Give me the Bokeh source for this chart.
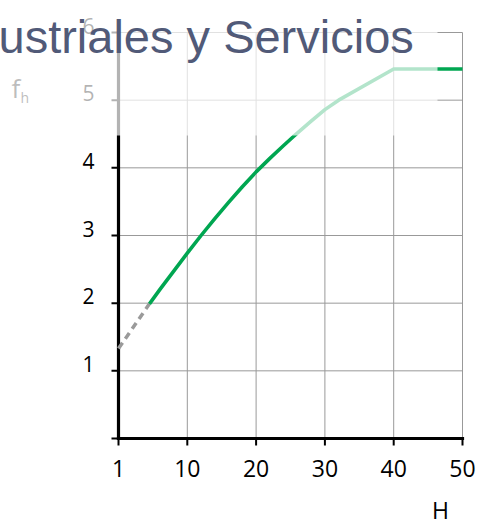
import math
from bokeh.plotting import figure
from bokeh.models import Range1d, BoxAnnotation, Label
from bokeh.core.properties import value
from bokeh.embed import file_html
from bokeh.resources import INLINE

# ---- data ----
x_ticks = [0, 10, 20, 30, 40, 50]
x_tick_labels = ["1", "10", "20", "30", "40", "50"]
y_ticks = [0, 1, 2, 3, 4, 5, 6]
y_tick_labels = ["1", "2", "3", "4", "5", "6"]   # no label at 0

curve_h = [4.5, 6, 8, 10, 12, 14, 16, 18, 20, 22, 24, 25.4, 28, 30, 32, 40, 50]
curve_f = [1.99, 2.20, 2.47, 2.74, 3.00, 3.25, 3.49, 3.72, 3.94, 4.14, 4.33, 4.46,
           4.69, 4.86, 5.00, 5.46, 5.46]
dash_h = [0, 4.5]
dash_f = [1.33, 1.99]

title_text = "ustriales y Servicios"
y_label = "f"
y_label_sub = "h"
x_label = "H"

# ---- layout (pixel placement of the chart area) ----
W, H = 477, 524
PX_X0, PX_X50 = 118, 462      # pixel of x=0 and x=50
PX_Y0, PX_Y6 = 438, 32        # pixel of y=0 and y=6
SX = (PX_X50 - PX_X0) / (x_ticks[-1] - x_ticks[0])
SY = (PX_Y0 - PX_Y6) / (y_ticks[-1] - y_ticks[0])


def dx(px):
    return x_ticks[0] + (px - PX_X0) / SX


def dy(py):
    return y_ticks[0] + (PX_Y0 - py) / SY


FONT = "Open Sans"
GRID = "#999999"
GREEN = "#00a651"

p = figure(width=W, height=H, x_range=Range1d(dx(0), dx(W)), y_range=Range1d(dy(H), dy(0)),
           x_axis_location=None, y_axis_location=None, min_border=0,
           output_backend="svg", toolbar_location=None)
p.outline_line_color = None
p.background_fill_color = "white"
p.border_fill_color = "white"
p.xgrid.visible = False
p.ygrid.visible = False

xmin, xmax = x_ticks[0], x_ticks[-1]
ymin, ymax = y_ticks[0], y_ticks[-1]

# grid lines
vx = x_ticks[1:]
p.segment(x0=vx, x1=vx, y0=[ymin] * len(vx), y1=[ymax] * len(vx), line_color=GRID, line_width=1)
hy = y_ticks[1:]
p.segment(x0=[xmin] * len(hy), x1=[xmax] * len(hy), y0=hy, y1=hy, line_color=GRID, line_width=1)

# tick marks
p.ray(x=x_ticks, y=[ymin] * len(x_ticks), length=7, length_units="screen",
      angle=-math.pi / 2, line_color="black", line_width=2)
p.ray(x=[xmin] * len(y_ticks), y=y_ticks, length=7, length_units="screen",
      angle=math.pi, line_color="black", line_width=2)

# axis lines
p.segment(x0=[xmin, xmin], y0=[ymin, ymin], x1=[xmax, xmin], y1=[ymin, ymax],
          line_color="black", line_width=3.2, line_cap="square")

# data lines
p.line(dash_h, dash_f, line_color="#9a9a9a", line_width=3.5, line_dash="7 5")
p.line(curve_h, curve_f, line_color=GREEN, line_width=3.6, line_join="round")

# tick labels
p.text(x=x_ticks, y=[dy(468)] * len(x_ticks), text=x_tick_labels,
       text_align="center", text_baseline="alphabetic",
       text_font=value(FONT), text_font_size=value("23px"), text_color="black")
p.text(x=[dx(94)] * len(hy), y=[v + 7 / SY for v in hy], text=y_tick_labels,
       text_align="right", text_baseline="alphabetic",
       text_font=value(FONT), text_font_size=value("21px"), text_color="black")

# axis titles
p.text(x=[dx(11)], y=[dy(87)], text=[y_label], text_align="left", text_baseline="alphabetic",
       text_font=value(FONT), text_font_size=value("26px"), text_color="#222222")
p.text(x=[dx(20)], y=[dy(97)], text=[y_label_sub], text_align="left", text_baseline="alphabetic",
       text_font=value(FONT), text_font_size=value("14px"), text_color="#222222")
p.text(x=[dx(440)], y=[dy(509)], text=[x_label], text_align="center", text_baseline="alphabetic",
       text_font=value(FONT), text_font_size=value("23px"), text_color="black")

# white fade over the upper part
p.add_layout(BoxAnnotation(left=dx(-20), right=dx(437), bottom=dy(135), top=dy(-20),
                           fill_color="white", fill_alpha=0.7, line_alpha=0))

# overlapping heading text
p.add_layout(Label(x=dx(-2), y=dy(36), text=title_text, text_font="Liberation Sans",
                   text_font_size="47px", text_color="#515a78",
                   text_align="left", text_baseline="alphabetic"))

open("out.html", "w").write(file_html(p, INLINE))
